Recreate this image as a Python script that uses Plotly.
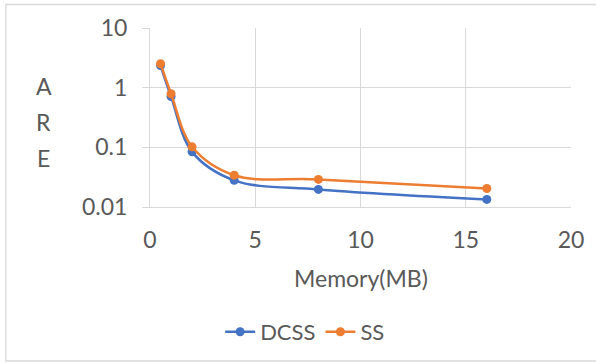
import plotly.graph_objects as go

memory_mb = [0.5, 1, 2, 4, 8, 16]
dcss_are = [2.35, 0.71, 0.084, 0.028, 0.0197, 0.0134]
ss_are = [2.52, 0.79, 0.102, 0.034, 0.029, 0.0204]
series_names = ["DCSS", "SS"]
x_ticks = [0, 5, 10, 15, 20]
y_ticks = [0.01, 0.1, 1, 10]
y_tick_text = ["0.01", "0.1", "1", "10"]

FONT = "Lato, 'Open Sans', sans-serif"
TXT = "#595959"
GRID = "#D9D9D9"
FS = 23

L, R, T, B = 149.5, 24.5, 28, 156
W, H = 596, 363
pw = W - L - R
ph = H - T - B

def px(xpix):
    return (xpix - L) / pw

def py(ypix):
    return (H - B - ypix) / ph

fig = go.Figure()
fig.add_trace(go.Scatter(x=memory_mb, y=dcss_are, name=series_names[0], mode="lines+markers",
                         line=dict(color="#4472C4", width=2.5, shape="spline"),
                         marker=dict(size=9, color="#4472C4")))
fig.add_trace(go.Scatter(x=memory_mb, y=ss_are, name=series_names[1], mode="lines+markers",
                         line=dict(color="#ED7D31", width=2.5, shape="spline"),
                         marker=dict(size=9, color="#ED7D31")))

fig.update_layout(
    width=W, height=H,
    margin=dict(l=L, r=R, t=T, b=B, pad=0, autoexpand=False),
    paper_bgcolor="white", plot_bgcolor="white",
    font=dict(family=FONT, size=FS, color=TXT),
    showlegend=True,
    legend=dict(orientation="h", x=px(305), y=py(332), xanchor="center", yanchor="middle",
                font=dict(size=22, color=TXT), bgcolor="rgba(0,0,0,0)", itemwidth=30,
                tracegroupgap=0),
)
fig.update_xaxes(range=[0, 20], tickvals=x_ticks, showgrid=True, gridcolor=GRID, gridwidth=1,
                 zeroline=False, showline=True, linecolor=GRID, ticks="",
                 tickfont=dict(size=FS, color=TXT), ticklabelstandoff=12, automargin=False)
fig.update_yaxes(type="log", range=[-2, 1], tickvals=y_ticks, ticktext=y_tick_text,
                 showgrid=True, gridcolor=GRID, gridwidth=1, zeroline=False,
                 showline=True, linecolor=GRID, ticks="outside", ticklen=7, tickcolor=GRID,
                 tickfont=dict(size=FS, color=TXT), ticklabelstandoff=10, automargin=False)

# axis titles
fig.add_annotation(text="Memory(MB)", x=px(361), y=py(278), xref="paper", yref="paper",
                   showarrow=False, xanchor="center", yanchor="middle",
                   font=dict(size=FS, color=TXT))
for letter, ypix in zip(["A", "R", "E"], [86, 122, 158]):
    fig.add_annotation(text=letter, x=px(43), y=py(ypix), xref="paper", yref="paper",
                       showarrow=False, xanchor="center", yanchor="middle",
                       font=dict(size=FS, color=TXT))

# chart border
fig.add_shape(type="rect", xref="paper", yref="paper",
              x0=px(5), x1=px(600), y0=py(361), y1=py(4.5),
              line=dict(color=GRID, width=1.3), layer="below")

fig.write_html("out.html", config={"displayModeBar": False},
               post_script="document.body.style.margin='0px';")
